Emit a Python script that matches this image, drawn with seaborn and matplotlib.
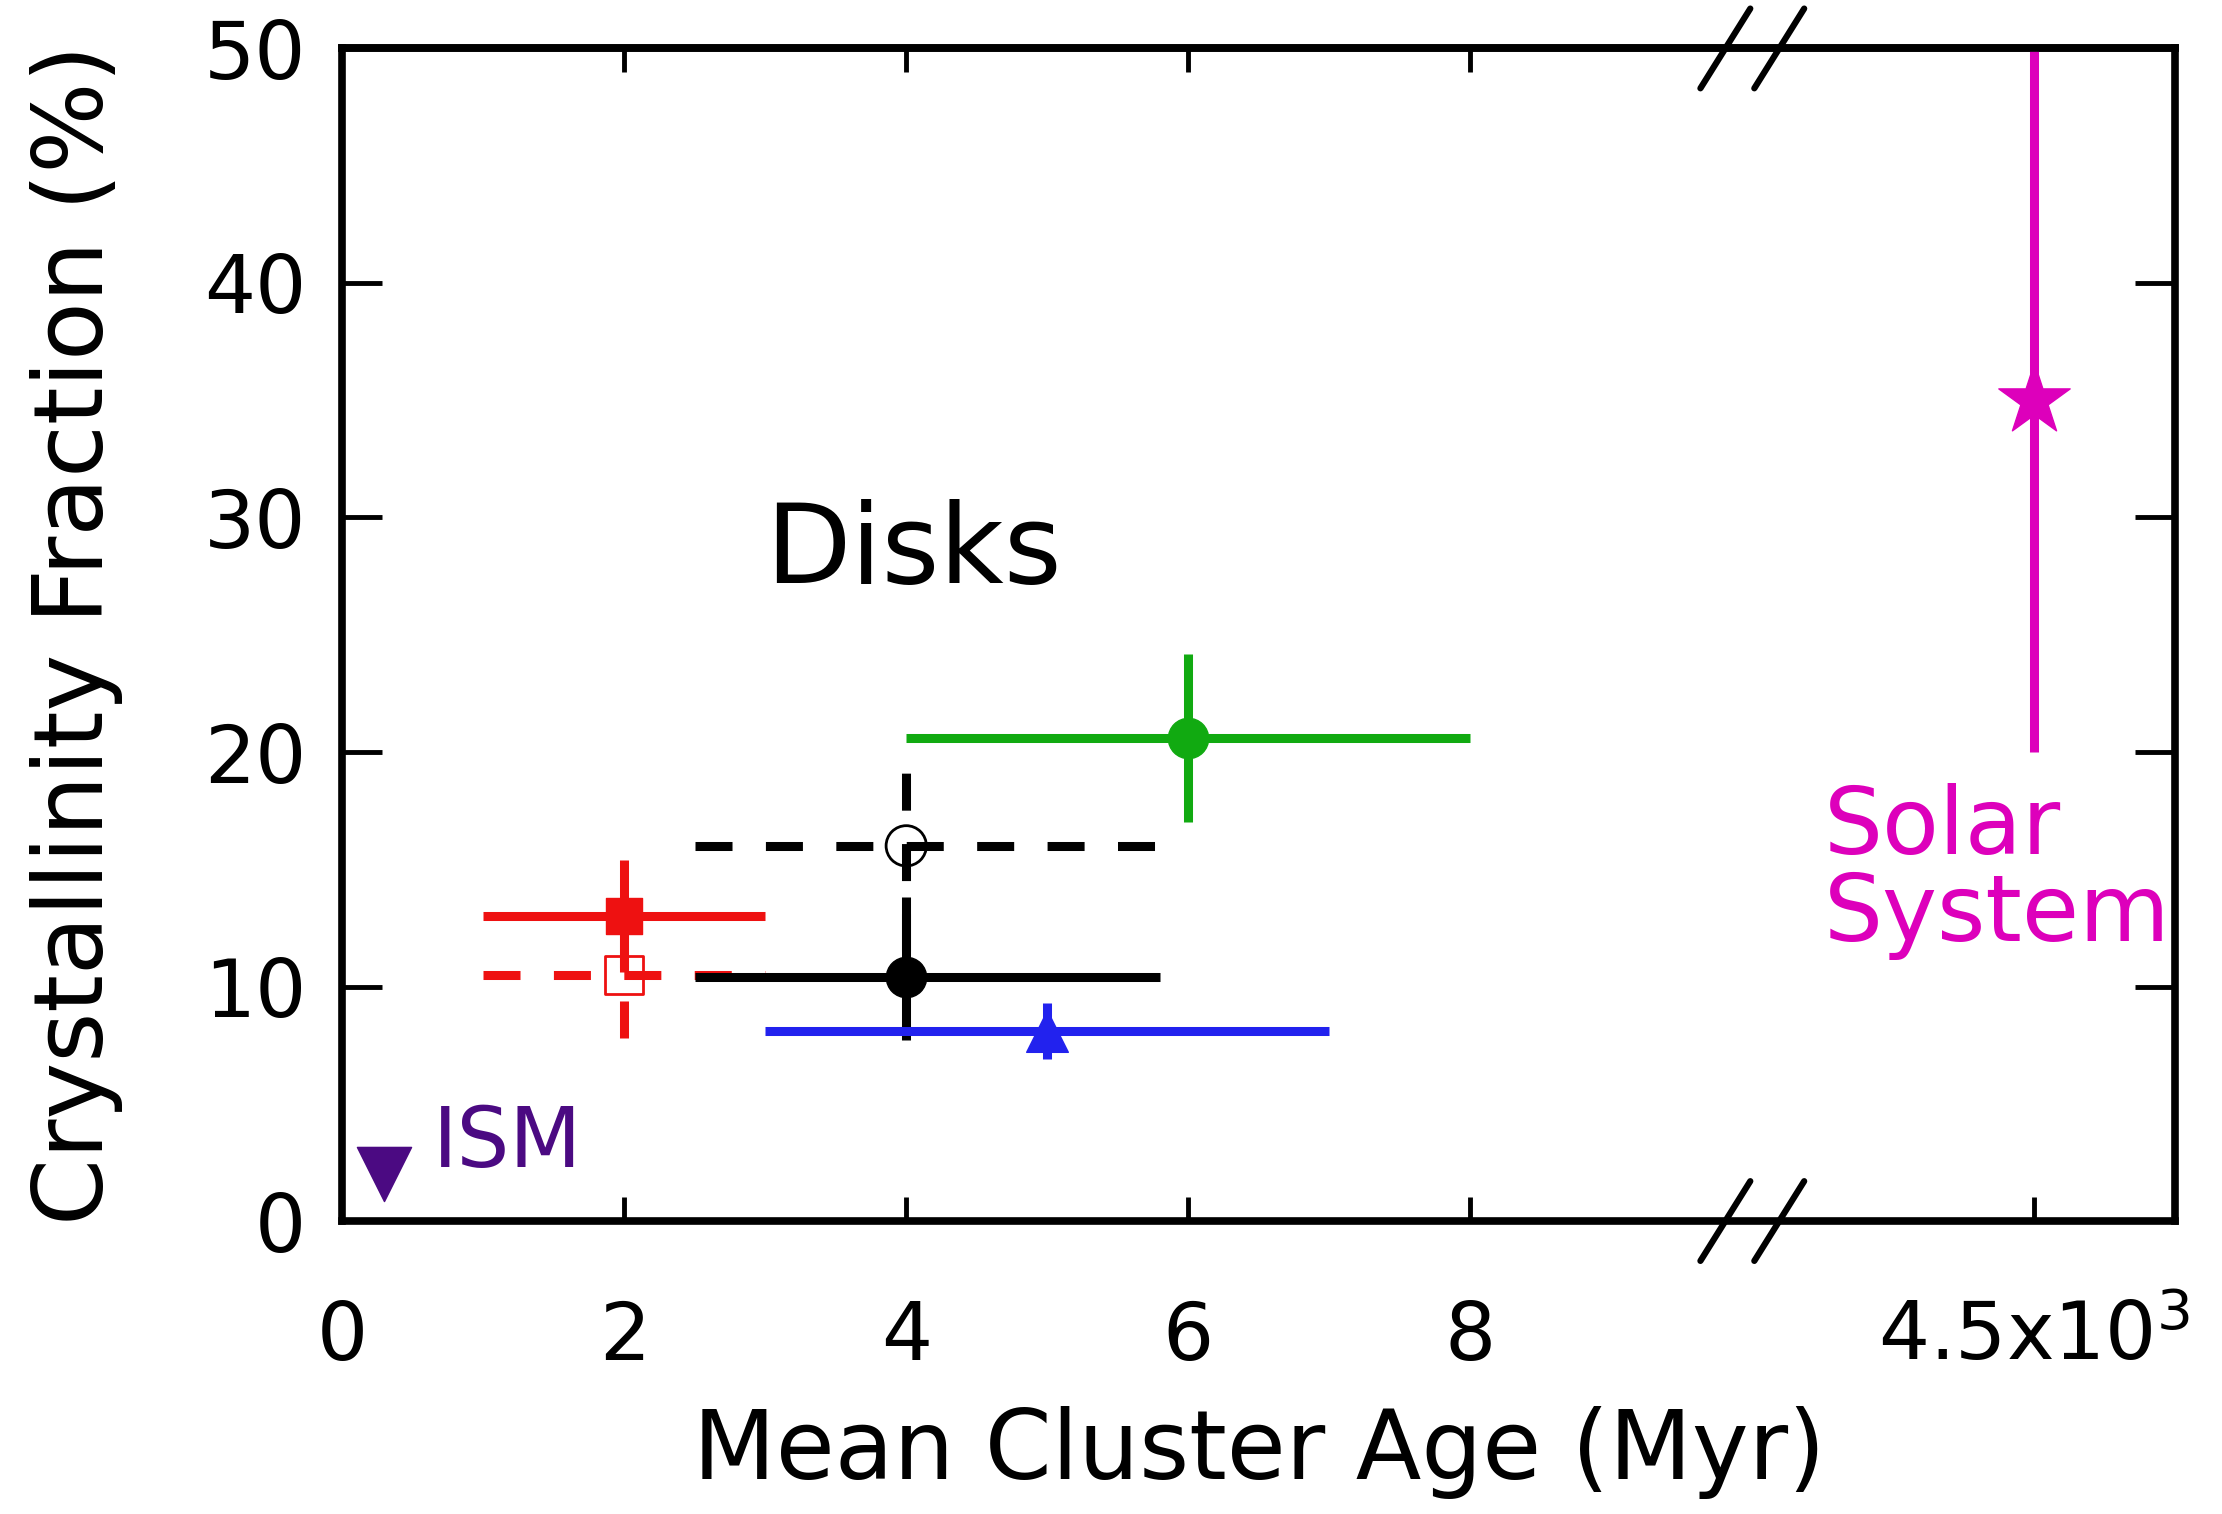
import numpy as np
import pandas as pd
import matplotlib
matplotlib.use("Agg")
import matplotlib.pyplot as plt
import seaborn as sns

# ---------------- data ----------------
names = ["cl_red_filled", "cl_red_open", "cl_black_open", "cl_black_filled",
         "cl_blue", "cl_green", "ISM", "Solar System"]
age_myr = [2.0, 2.0, 4.0, 4.0, 5.0, 6.0, 0.3, 4500.0]
cryst = [13.0, 10.5, 16.0, 10.4, 8.1, 20.6, 2.0, 35.0]
xerr_lo = [1.0, 1.0, 1.5, 1.5, 2.0, 2.0, 0.0, 0.0]
xerr_hi = [1.0, 1.0, 1.8, 1.8, 2.0, 2.0, 0.0, 0.0]
yerr_lo = [2.4, 2.7, 4.5, 2.7, 1.2, 3.6, 0.0, 15.0]
yerr_hi = [2.4, 2.7, 4.5, 3.4, 1.2, 3.6, 0.0, 15.0]
colors = ["#EE1111", "#EE1111", "#000000", "#000000", "#2222EE", "#11AA11",
          "#4B0A82", "#DD00BB"]
markers = ["s", "s", "o", "o", "^", "o", "v", "*"]
filled = [True, False, False, True, True, True, True, True]
dashed = [False, True, True, False, False, False, False, False]
msizes = [26, 27, 29, 29, 30, 29, 39, 54]

xticks = [0, 2, 4, 6, 8, 12]
xticklabels = ["0", "2", "4", "6", "8", "4.5x10$^{3}$"]
yticks = [0, 10, 20, 30, 40, 50]
BREAK = 10.0


def to_axis(a):
    # broken x axis: linear up to the break, 4.5 Gyr placed at 12
    return a if a < BREAK else 12.0 + (a - 4500.0) / 1000.0


df = pd.DataFrame({"name": names, "age": [to_axis(a) for a in age_myr],
                   "cryst": cryst})

# ---------------- plot ----------------
sns.set_style("ticks")
plt.rcParams["font.family"] = ["DejaVu Sans"]
plt.rcParams["text.color"] = "black"
plt.rcParams["axes.labelcolor"] = "black"
plt.rcParams["xtick.color"] = "black"
plt.rcParams["ytick.color"] = "black"

fig, ax = plt.subplots(figsize=(22.22, 15.14), dpi=100)
fig.subplots_adjust(left=0.154, right=0.979, bottom=0.1935, top=0.968)

for i in range(len(df)):
    x, y = df["age"][i], df["cryst"][i]
    if xerr_lo[i] + xerr_hi[i] + yerr_lo[i] + yerr_hi[i] > 0:
        eb = ax.errorbar([x], [y], xerr=[[xerr_lo[i]], [xerr_hi[i]]],
                         yerr=[[yerr_lo[i]], [yerr_hi[i]]], fmt="none",
                         ecolor=colors[i], elinewidth=6.5, capsize=0, zorder=2)
        if dashed[i]:
            for lc in eb[2]:
                lc.set_linestyle((0, (4.1, 3.7)))

for i in range(len(df)):
    sub = df.iloc[[i]]
    if filled[i]:
        sns.scatterplot(data=sub, x="age", y="cryst", ax=ax, marker=markers[i],
                        s=msizes[i] ** 2, color=colors[i], edgecolor=colors[i],
                        linewidth=1, zorder=4, legend=False)
    else:
        ax.scatter(sub["age"], sub["cryst"], marker=markers[i], s=msizes[i] ** 2,
                   facecolors="none", edgecolors=colors[i], linewidths=2,
                   zorder=4)

# annotations
ax.text(3.0, 28.5, "Disks", fontsize=80, color="black", ha="left", va="center")
ax.text(0.64, 3.3, "ISM", fontsize=60, color="#4B0A82", ha="left", va="center")
ax.text(10.51, 14.9, "Solar\nSystem", fontsize=67, color="#DD00BB",
        ha="left", va="center", linespacing=0.95)

# axes
ax.set_xlim(0, 13)
ax.set_ylim(0, 50)
ax.set_xticks(xticks)
ax.set_xticklabels(xticklabels)
ax.set_yticks(yticks)
ax.tick_params(axis="x", direction="in", length=17, width=3.5, pad=56,
               labelsize=58, top=False, color="black", labelcolor="black")
ax.tick_params(axis="y", direction="in", length=29, width=3.5, pad=26,
               labelsize=58, right=True, color="black", labelcolor="black")
for s in ax.spines.values():
    s.set_linewidth(5.5)
    s.set_color("black")

sec = ax.secondary_xaxis("top")
sec.set_xticks([0, 2, 4, 6, 8])
sec.tick_params(direction="in", length=17, width=3.5, labeltop=False,
                color="black")
sec.spines["top"].set_linewidth(5.5)
sec.spines["top"].set_color("black")

ax.set_xlabel("Mean Cluster Age (Myr)", fontsize=69, color="black")
ax.xaxis.set_label_coords(0.5, -0.197)
ax.xaxis.label.set_va("center")
ax.set_ylabel("Crystallinity Fraction (%)", fontsize=69, color="black")
ax.yaxis.set_label_coords(-0.145, 0.5)
ax.yaxis.label.set_va("center")

# axis-break marks
xmin, xmax = ax.get_xlim()
bx = (BREAK - xmin) / (xmax - xmin)
dx, dy, sep = 0.0136, 0.034, 0.0147
for yb in (0.0, 1.0):
    for c in (bx - sep, bx + sep):
        ax.plot([c - dx, c + dx], [yb - dy, yb + dy], transform=ax.transAxes,
                color="black", lw=4.5, clip_on=False, zorder=6)

fig.savefig("out.png", dpi=100)
